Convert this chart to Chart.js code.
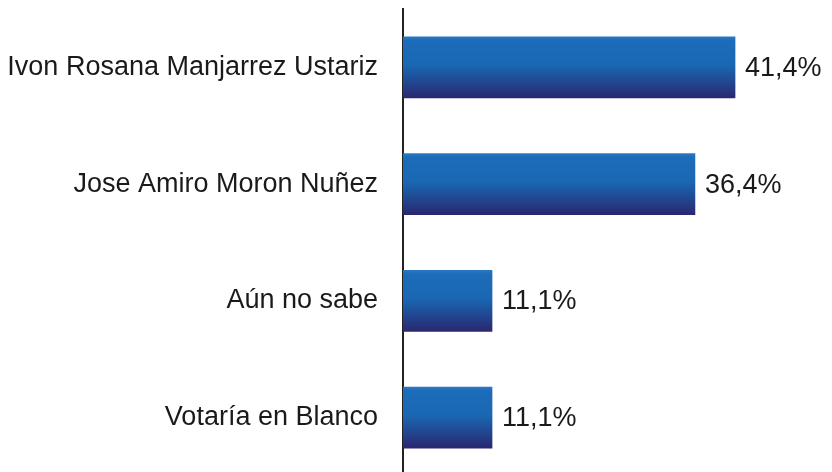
<!DOCTYPE html>
<html>
<head>
<meta charset="utf-8">
<script src="https://cdn.jsdelivr.net/npm/chart.js@4/dist/chart.umd.min.js"></script>
<style>
html,body{margin:0;padding:0;background:#fff;overflow:hidden;}
#wrap{position:relative;width:832px;height:476px;}
</style>
</head>
<body>
<div id="wrap"><canvas id="c"></canvas></div>
<script>
const categories = ["Ivon Rosana Manjarrez Ustariz", "Jose Amiro Moron Nuñez", "Aún no sabe", "Votaría en Blanco"];
const values = [41.4, 36.4, 11.1, 11.1];
const valueLabels = ["41,4%", "36,4%", "11,1%", "11,1%"];

const FONT = "'Liberation Sans', Arial, sans-serif";
const BAR_T = 61;

function barGradient(ctx) {
  const chart = ctx.chart;
  const y = chart.scales && chart.scales.y;
  if (!y || ctx.dataIndex === undefined) return '#1b6bb8';
  const c = y.getPixelForValue(ctx.dataIndex);
  if (!isFinite(c)) return '#1b6bb8';
  const g = chart.ctx.createLinearGradient(0, c - BAR_T / 2, 0, c + BAR_T / 2);
  g.addColorStop(0, '#2a78c4');
  g.addColorStop(0.06, '#1c6cb9');
  g.addColorStop(0.45, '#1a68b4');
  g.addColorStop(0.75, '#21468f');
  g.addColorStop(1, '#2a2770');
  return g;
}

const valuePlugin = {
  id: 'valueLabels',
  afterDatasetsDraw(chart) {
    const ctx = chart.ctx;
    const meta = chart.getDatasetMeta(0);
    ctx.save();
    ctx.font = '27px ' + FONT;
    ctx.fillStyle = '#1a1a1a';
    ctx.textAlign = 'left';
    ctx.textBaseline = 'middle';
    meta.data.forEach((bar, i) => {
      ctx.fillText(valueLabels[i], bar.x + 10, bar.y + 1);
    });
    ctx.restore();
  }
};

new Chart(document.getElementById('c'), {
  type: 'bar',
  data: {
    labels: categories,
    datasets: [{
      data: values,
      backgroundColor: barGradient,
      borderWidth: 0,
      barThickness: BAR_T
    }]
  },
  options: {
    indexAxis: 'y',
    responsive: true,
    maintainAspectRatio: false,
    animation: false,
    layout: { padding: { top: 9, right: 28, left: 0, bottom: 0 } },
    plugins: { legend: { display: false }, tooltip: { enabled: false } },
    scales: {
      x: { display: false, min: 0, max: 50 },
      y: {
        afterFit(scale) { scale.width = 403; scale.paddingTop = 0; scale.paddingBottom = 0; },
        grid: { display: false, drawTicks: false },
        border: { display: true, color: '#222', width: 2 },
        ticks: {
          padding: 25,
          color: '#1a1a1a',
          font: { family: FONT, size: 27 }
        }
      }
    }
  },
  plugins: [valuePlugin]
});
</script>
</body>
</html>
